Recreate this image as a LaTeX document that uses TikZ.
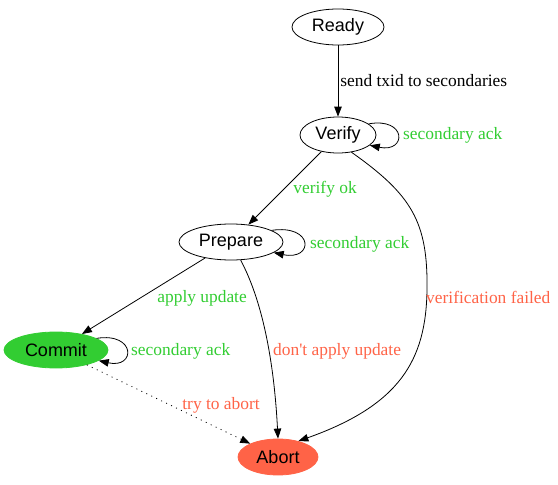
\documentclass[tikz,border=0pt]{standalone}
\usepackage{fontspec}
\setmainfont{Liberation Serif}
\newfontfamily\statefont{Liberation Sans}
\usetikzlibrary{shapes.geometric,arrows.meta}
\definecolor{limegreen}{RGB}{50,205,50}
\definecolor{tomato}{RGB}{255,99,71}
\tikzset{
    state/.style={ellipse, draw, line width=0.8pt, inner sep=0pt, minimum height=36pt, font=\statefont\fontsize{18}{20}\selectfont},
    edge/.style={-{Triangle[length=10pt,width=7.5pt]}, line width=0.8pt},
    lbl/.style={anchor=west, inner sep=0pt, font=\rmfamily\fontsize{17.4}{19}\selectfont},
}
\begin{document}
\begin{tikzpicture}[x=1pt,y=-1pt]
        \useasboundingbox (0,0) rectangle (558,485);
        \node[state, minimum width=92pt] (ready) at (338,27) {Ready};
        \node[state, minimum width=76pt] (verify) at (338,135) {Verify};
        \node[state, minimum width=104pt] (prepare) at (231,242) {Prepare};
        \node[state, minimum width=104pt, fill=limegreen, draw=limegreen] (commit) at (56,350) {Commit};
        \node[state, minimum width=80pt, fill=tomato, draw=tomato] (abort) at (278,457) {Abort};
        \draw[edge] (ready) -- (verify) %send txid
            node[lbl, pos=0.5, xshift=2pt] {send txid to secondaries};
        \draw[edge] (verify.20) .. controls (407,117) and (407,153) .. (verify.-18); %Verify loop
        \node[lbl, text=limegreen] at (403,135) {secondary ack};
        \draw[edge] (verify) -- (prepare) %verify ok
            node[lbl, text=limegreen] at (293,189) {verify ok};
        \draw[edge] (prepare.16) .. controls (314,224) and (314,261) .. (prepare.-14); %Prepare loop
        \node[lbl, text=limegreen] at (310,244) {secondary ack};
        \draw[edge] (commit.16) .. controls (136,332) and (136,369) .. (commit.-14); %Commit loop
        \node[lbl, text=limegreen] at (131,351) {secondary ack};
        \draw[edge] (prepare) -- (commit) %apply update
            node[lbl, text=limegreen] at (157,298) {apply update};
        \draw[edge] (prepare.-62) .. controls (262,300) and (274,360) .. (abort.north); %don't apply
        \node[lbl, text=tomato] at (273,351) {don\textquotesingle t apply update};
        \draw[edge] (verify.-52) .. controls (412,195) and (428,222) .. (427,290)
            .. controls (426,360) and (400,405) .. (abort.38); %verification failed
        \node[lbl, text=tomato] at (426,297) {verification failed};
        \draw[edge, dash pattern=on 1pt off 4.5pt] (commit) -- (abort) %try to abort
            node[lbl, text=tomato] at (182,405) {try to abort};
    \end{tikzpicture}
\end{document}
